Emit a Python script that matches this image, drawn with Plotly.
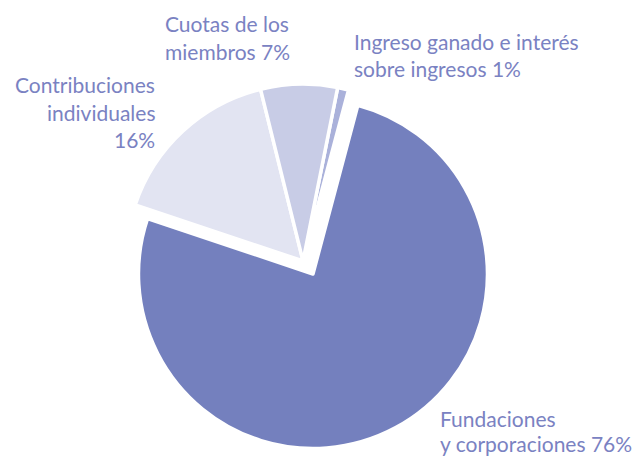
import plotly.graph_objects as go

# Data
labels = ["Ingreso ganado e interés sobre ingresos", "Fundaciones y corporaciones",
          "Contribuciones individuales", "Cuotas de los miembros"]
values = [1, 76, 16, 7]
colors = ["#AAB1DA", "#7480BE", "#E2E4F2", "#C8CCE6"]
exploded = [False, True, False, False]   # Fundaciones is pulled away from the rest

label_lines = [
    ["Ingreso ganado e interés", "sobre ingresos 1%"],
    ["Fundaciones", "y corporaciones 76%"],
    ["Contribuciones", "individuales", "16%"],
    ["Cuotas de los", "miembros 7%"],
]

W, H = 642, 457
TEXT = "#7A82C2"
CLEAR = "rgba(0,0,0,0)"
LW = 3.5


def pie_layer(show):
    return go.Pie(
        labels=labels, values=values, sort=False, direction="clockwise",
        rotation=11.3,
        marker=dict(
            colors=[c if s else CLEAR for c, s in zip(colors, show)],
            line=dict(color=["white" if s else CLEAR for s in show],
                      width=[LW if s else 0 for s in show]),
        ),
        textinfo="none", hoverinfo="label+percent", showlegend=False,
    )


big = pie_layer(exploded)
big.domain = dict(x=[0.2157, 0.7593], y=[0.0186, 0.7823])
small = pie_layer([not e for e in exploded])
small.domain = dict(x=[0.1963, 0.7477], y=[0.0416, 0.8162])

fig = go.Figure([big, small])

# label placement: (x px, first baseline px, line step px, align)
placements = [
    (352, 50, 27, "left"),
    (438, 427, 25, "left"),
    (157, 93, 27.5, "right"),
    (163, 32, 28, "left"),
]

annotations = []
for lines, (xp, yb, step, align) in zip(label_lines, placements):
    for i, line in enumerate(lines):
        base = yb + i * step
        annotations.append(dict(
            text=line, xref="paper", yref="paper",
            x=xp / W, y=1 - (base + 6) / H,
            xanchor=align, yanchor="bottom", showarrow=False,
            font=dict(family="Lato", size=21, color=TEXT),
        ))

fig.update_layout(
    width=W, height=H, margin=dict(l=0, r=0, t=0, b=0),
    paper_bgcolor="white", plot_bgcolor="white",
    annotations=annotations,
)

fig.write_html("out.html")
